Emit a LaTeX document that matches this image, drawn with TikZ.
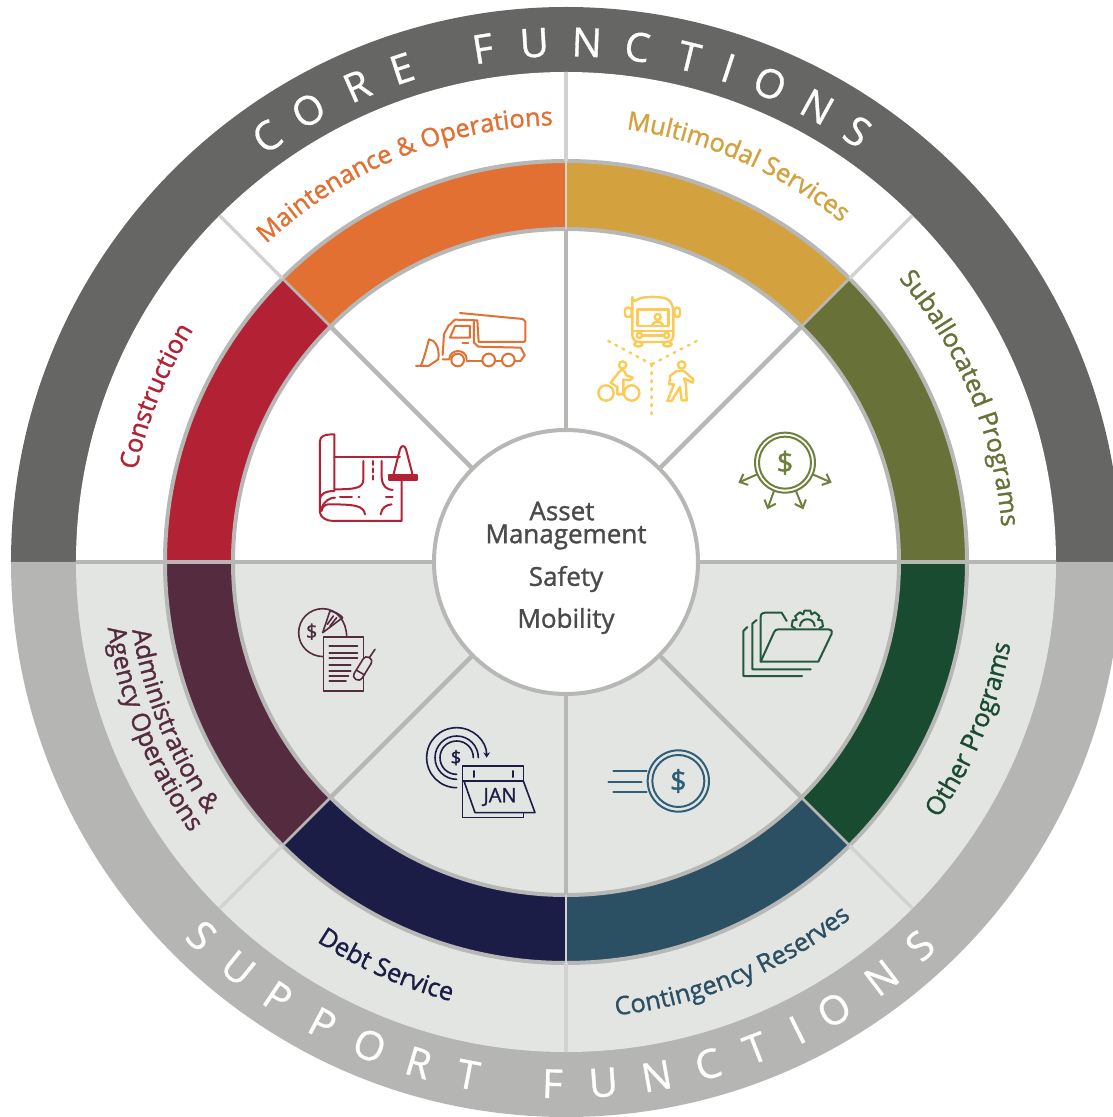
\documentclass[tikz,border=0pt]{standalone}
\usepackage{fontspec}
\setmainfont{Open Sans}
\newfontface\corefont[FakeBold=0.8]{Open Sans}
\newfontface\labelfont[FakeBold=1.2]{Open Sans}
\usetikzlibrary{arrows.meta, decorations.text}
\definecolor{coregray}{HTML}{666664}
\definecolor{supportgray}{HTML}{B5B6B4}
\definecolor{panelgray}{HTML}{E3E5E3}
\definecolor{spokegray}{HTML}{B7B8B6}
\definecolor{spokelight}{HTML}{D2D3D1}
\definecolor{centertext}{HTML}{4A4A4A}
\definecolor{constr}{HTML}{B32134}
\definecolor{maint}{HTML}{E37033}
\definecolor{multi}{HTML}{D3A13D}
\definecolor{subal}{HTML}{677138}
\definecolor{otherprog}{HTML}{194B30}
\definecolor{conting}{HTML}{2B5063}
\definecolor{debt}{HTML}{1B1D47}
\definecolor{admin}{HTML}{552B3F}
\definecolor{busyellow}{HTML}{FBCB55}
\definecolor{subalicon}{HTML}{6F7F3C}
\definecolor{othericon}{HTML}{24593D}
\definecolor{contingicon}{HTML}{2F5F78}
\tikzset{
    spoke/.style={
        draw=spokegray,
        line width=3.4pt
    },
    spokeout/.style={
        draw=spokelight,
        line width=2.6pt
    },
    rim/.style={
        draw=spokegray,
        line width=3pt
    },
    centerlabel/.style={
        font=\fontsize{19.5}{19.5}\labelfont,
        text=centertext,
        inner sep=0pt
    },
    bannerletter/.style={
        font=\fontsize{30}{30}\corefont,
        text=white,
        inner sep=0pt
    },
    iconat/.style n args={3}{
        shift={(#1,#2)},
        x=0.25pt,
        y=-0.25pt,
        color=#3,
        line width=1.5pt,
        line cap=round,
        line join=round
    },
    money/.style={
        font=\fontsize{#1}{#1}\labelfont,
        inner sep=0pt
    }
}
% one coloured piece of the ring: start angle, end angle, colour
\newcommand{\ringseg}[3]{
    \fill[#3] (#1:333) arc[start angle=#1, end angle=#2, radius=333]
        -- (#2:401) arc[start angle=#2, end angle=#1, radius=401] -- cycle;
}
% label on an arc: colour, radius, start angle, end angle, text
\newcommand{\curvelabel}[5]{
    \path[decorate, decoration={text along path, text align=center,
        text={|\fontsize{19}{19}\labelfont\color{#1}|#5}}]
        (#3:#2) arc[start angle=#3, end angle=#4, radius=#2];
}
\begin{document}
\begin{tikzpicture}[x=0.75pt, y=0.75pt]
\catcode`\&=12
\useasboundingbox (-566,-555) rectangle (547,562);

% Outer band
\fill[coregray] (180:555) arc[start angle=180, end angle=0, radius=555] -- cycle;
\fill[supportgray] (180:555) arc[start angle=180, end angle=360, radius=555] -- cycle;

% Panels
\fill[white] (180:490) arc[start angle=180, end angle=0, radius=490] -- cycle;
\fill[panelgray] (180:490) arc[start angle=180, end angle=360, radius=490] -- cycle;

% Coloured ring
\ringseg{135}{180}{constr}
\ringseg{90}{135}{maint}
\ringseg{45}{90}{multi}
\ringseg{0}{45}{subal}
\ringseg{-45}{0}{otherprog}
\ringseg{-90}{-45}{conting}
\ringseg{-135}{-90}{debt}
\ringseg{-180}{-135}{admin}
\draw[rim] (0,0) circle[radius=333];
\draw[rim] (0,0) circle[radius=401];

% Spokes
\foreach \ang in {45,135,225,315}{
    \draw[spoke] (\ang:132) -- (\ang:333);
    \draw[spoke, line width=2pt] (\ang:333) -- (\ang:401);
    \draw[spokeout] (\ang:401) -- (\ang:490);
}
\foreach \ang in {90,270}{
    \draw[spoke] (\ang:132) -- (\ang:333);
    \draw[spokeout, line width=1.6pt] (\ang:333) -- (\ang:401);
    \draw[spokeout] (\ang:401) -- (\ang:490);
}
\draw[spoke] (180:490) -- (180:132);
\draw[spoke] (0:132) -- (0:490);

% Centre
\draw[rim, fill=white] (0,0) circle[radius=132];
\node[centerlabel] (asset) at (-4,51) {Asset};
\node[centerlabel] (mgmt) at (0,25) {Management};
\node[centerlabel] (safety) at (0,-17) {Safety};
\node[centerlabel] (mobility) at (0,-59) {Mobility};

% Banner text
\foreach \letter/\ang [count=\i] in {C/125.1,O/119.7,R/113.7,E/108.4,F/99.2,U/93.5,N/87.7,C/82.1,T/76.3,I/71.8,O/66.9,N/61.1,S/55.9}{
    \node[bannerletter, rotate=\ang-90] (core\i) at (\ang:520) {\letter};
}
\foreach \letter/\ang [count=\i] in {S/225.7,U/231.1,P/236.5,P/242.2,O/247.9,R/253.6,T/259.2,F/268.5,U/274.1,N/280.0,C/285.8,T/291.3,I/296.3,O/300.9,N/307.2,S/312.7}{
    \node[bannerletter, rotate=\ang+90] (support\i) at (\ang:522) {\letter};
}

% Ring labels
\curvelabel{constr}{439}{198}{118}{Construction}
\curvelabel{maint}{437}{160}{65}{Maintenance & Operations}
\curvelabel{multi}{437}{115}{18}{Multimodal Services}
\curvelabel{subal}{437}{70}{-25}{Suballocated Programs}
\curvelabel{otherprog}{452}{-70}{25}{Other Programs}
\curvelabel{conting}{456}{-115}{-20}{Contingency Reserves}
\curvelabel{debt}{454}{200}{292}{Debt Service}
\curvelabel{admin}{439}{150}{254}{Administration &}
\curvelabel{admin}{463}{150}{254}{Agency Operations}

% Snow plow
\begin{scope}[iconat={-266}{271}{maint}]
\draw (480,66) -- (668,84) -- (676,92) -- (676,148) -- (672,153) -- (536,153) -- (532,88) -- (465,86) -- (445,105) -- (432,130) -- (428,192);
\draw (450,140) -- (465,105) -- (510,105) -- (510,140) -- cycle;
\draw (522,92) -- (522,155) -- (535,167) -- (662,170) -- (674,192) -- (662,210) -- (645,210);
\draw (605,210) -- (585,210) (547,210) -- (500,210);
\draw (488,155) -- (505,155);
\draw (428,205) -- (448,205) .. controls (448,172) and (500,172) .. (500,205);
\draw (473,207) circle[radius=19] (566,207) circle[radius=19] (625,207) circle[radius=19];
\draw (348,225) -- (385,225) -- (415,205) .. controls (420,170) and (405,146) .. (387,145) .. controls (380,170) and (375,195) .. (362,225);
\end{scope}

% Blueprint and cone
\begin{scope}[iconat={-266}{271}{constr}]
\draw (60,625) -- (60,450) .. controls (60,435) and (75,430) .. (103,430) -- (103,600) .. controls (75,600) and (60,610) .. (60,625);
\draw (60,625) -- (60,665) .. controls (62,680) and (80,690) .. (100,690) -- (305,690) -- (305,570);
\draw (103,497) -- (300,497);
\draw (65,650) .. controls (75,628) and (90,620) .. (105,620);
\draw[dash pattern=on 9pt off 5pt] (120,618) -- (178,618);
\draw (190,510) -- (190,565) .. controls (190,590) and (170,595) .. (105,595);
\draw (245,510) -- (245,560) .. controls (248,590) and (262,595) .. (278,597);
\draw[dash pattern=on 3pt off 2.5pt] (218,510) -- (218,575);
\draw (258,618) -- (278,618);
\draw (195,670) .. controls (190,645) and (170,640) .. (85,640) .. controls (75,640) and (65,650) .. (65,660);
\draw (242,670) .. controls (245,650) and (258,642) .. (275,640);
\draw (280,552) -- (300,475) .. controls (303,462) and (315,462) .. (318,475) -- (338,552);
\draw[fill=constr] (268,553) rectangle (352,560);
\draw (268,560) rectangle (352,567);
\end{scope}

% Bus, cyclist, walker
\begin{scope}[iconat={14}{281}{busyellow}, line width=1.8pt]
\draw[rounded corners=5pt] (157,68) -- (157,183) -- (280,183) -- (280,68) .. controls (250,45) and (187,45) .. (157,68) -- cycle;
\draw[rounded corners=2pt] (135,80) rectangle (155,108) (283,80) rectangle (300,108);
\draw (172,85) rectangle (265,135);
\draw (233,108) circle[radius=9];
\draw (215,135) .. controls (218,118) and (248,118) .. (250,135);
\draw (157,150) -- (280,150);
\draw (178,163) circle[radius=8] (260,163) circle[radius=8];
\draw (187,163) -- (250,163);
\draw[rounded corners=2pt] (163,183) rectangle (187,196) (250,183) rectangle (275,196);
\draw[dash pattern=on 1.5pt off 4.5pt] (85,180) -- (215,250) (350,180) -- (215,250) (215,250) -- (215,410);
\draw (78,336) circle[radius=23] (155,336) circle[radius=23];
\draw (128,252) circle[radius=11];
\draw (92,305) -- (118,272) .. controls (125,262) and (135,268) .. (138,282) -- (158,290) -- (150,298) -- (130,296) -- (130,340) -- (112,340) -- (112,318) -- (92,305);
\draw (305,252) circle[radius=11];
\draw (290,270) -- (270,285) -- (268,310) -- (282,310) -- (262,360) -- (275,360) -- (300,318) -- (305,358) -- (320,358) -- (318,310) -- (312,292) -- (338,305) -- (340,295) -- (312,270) -- cycle;
\end{scope}

% Coin and arrows
\begin{scope}[iconat={14}{281}{subalicon}]
\draw (615,545) circle[radius=90] (615,545) circle[radius=78];
\node[money=22] (subcoin) at (615,545) {\$};
\draw[-{Straight Barb[length=5pt,width=9pt]}] (532,580) -- (475,605);
\draw[-{Straight Barb[length=5pt,width=9pt]}] (698,580) -- (755,605);
\draw[-{Straight Barb[length=5pt,width=9pt]}] (582,630) -- (562,685);
\draw[-{Straight Barb[length=5pt,width=9pt]}] (648,630) -- (670,685);
\end{scope}

% Folders and gear
\begin{scope}[iconat={24}{-29}{othericon}]
\draw (636,255) -- (460,255) -- (460,120) -- (472,108);
\draw (662,235) -- (487,235) -- (487,98) -- (500,87);
\draw (512,212) -- (512,78) .. controls (512,68) and (518,65) .. (525,65) -- (575,65) -- (590,90);
\draw (512,212) -- (685,212) -- (725,128) .. controls (727,118) and (722,115) .. (715,115) -- (565,115) .. controls (558,115) and (555,118) .. (552,124) -- cycle;
\foreach \ang in {-10,-50,-90,-130,-170}{
    \draw[shift={(652,105)}] (\ang-20:37) -- (\ang-11:47) -- (\ang+11:47) -- (\ang+20:37);
}
\draw (630,105) .. controls (632,78) and (672,78) .. (674,105);
\end{scope}

% Fast coin
\begin{scope}[iconat={24}{-29}{contingicon}]
\draw (265,570) circle[radius=92] (265,570) circle[radius=78];
\node[money=22] (fastcoin) at (265,570) {\$};
\draw (70,540) -- (170,540) (55,572) -- (155,572) (70,604) -- (170,604);
\end{scope}

% Pie and document
\begin{scope}[iconat={-286}{-39}{admin}, line width=1.2pt]
\draw (200,108) .. controls (200,60) and (170,23) .. (128,23) .. controls (88,23) and (56,55) .. (56,95) .. controls (56,135) and (88,167) .. (132,167);
\draw (128,95) -- (150,30) (128,95) -- (188,50) (150,30) .. controls (165,32) and (180,40) .. (188,50);
\draw (142,70) -- (160,45) (150,75) -- (170,50);
\node[money=15] (admincoin) at (95,92) {\$};
\draw[fill=panelgray] (130,108) rectangle (250,270);
\foreach \yy/\xx in {135/232,155/232,172/232,192/212,210/212,225/205,240/198}{
    \draw[line width=1.4pt] (148,\yy) -- (\xx,\yy);
}
\draw[fill=panelgray, rounded corners=3pt] (216,228) -- (256,163) -- (280,177) -- (240,242) -- cycle;
\draw (230,208) -- (254,222) (268,170) -- (285,145);
\end{scope}

% Rollover and calendar
\begin{scope}[iconat={-286}{-39}{debt}, line width=1.2pt]
\draw[-{Stealth[length=4pt,width=5pt]}] (530,560) .. controls (480,560) and (440,520) .. (440,470) .. controls (440,420) and (480,380) .. (530,380) .. controls (580,380) and (620,420) .. (620,470);
\draw (530,535) .. controls (494,535) and (465,506) .. (465,470) .. controls (465,434) and (494,405) .. (530,405) .. controls (566,405) and (595,434) .. (595,470);
\draw (530,520) .. controls (502,520) and (480,498) .. (480,470) .. controls (480,442) and (502,420) .. (530,420) .. controls (558,420) and (580,442) .. (580,470);
\node[money=14] (debtcoin) at (528,470) {\$};
\draw[fill=panelgray] (548,495) rectangle (730,540);
\draw (548,540) -- (548,650) -- (730,650) -- (730,635);
\draw[fill=panelgray] (552,540) -- (585,635) -- (765,635) -- (730,540) -- cycle;
\draw[line width=1.5pt] (582,510) -- (582,528) (698,510) -- (698,528);
\node[font=\fontsize{15}{15}\labelfont, inner sep=0pt] (jan) at (660,588) {JAN};
\end{scope}

\end{tikzpicture}
\end{document}
